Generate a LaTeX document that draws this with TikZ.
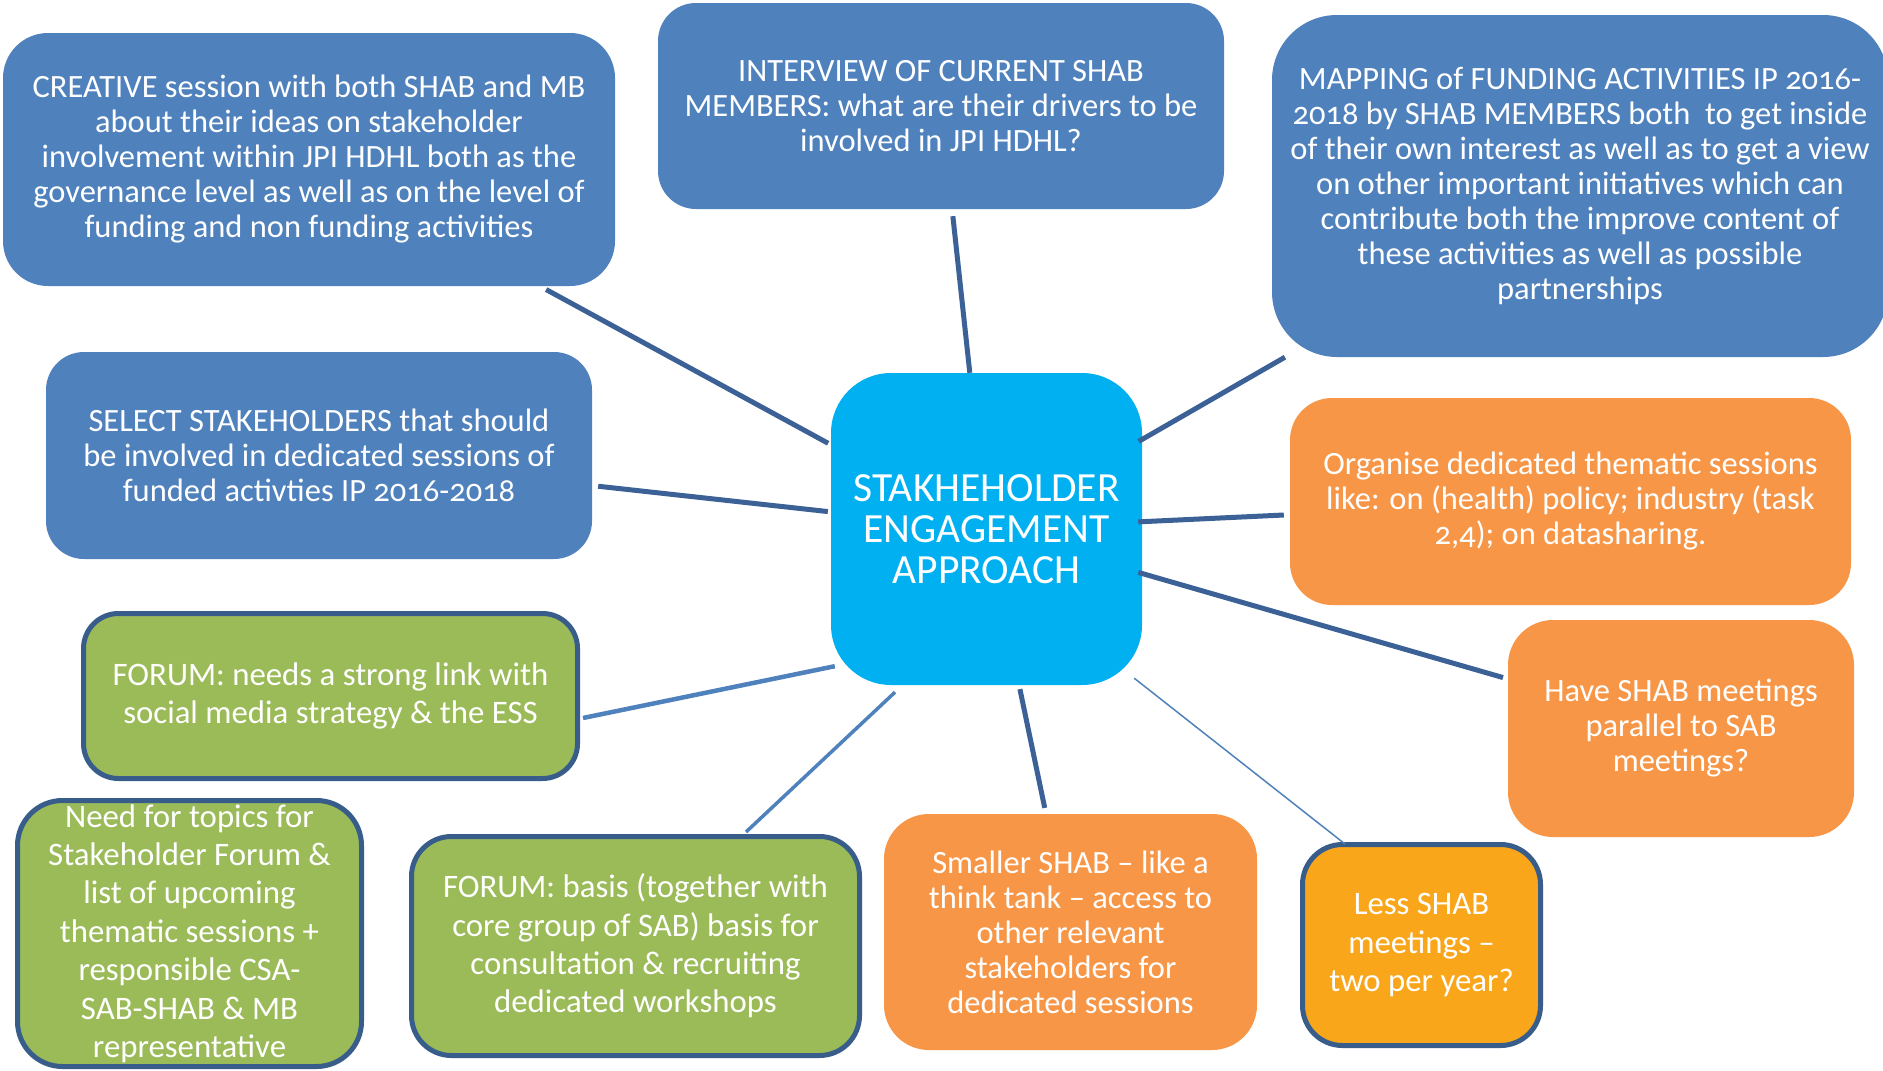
\documentclass[tikz,border=0pt]{standalone}
\usepackage{fontspec}
\setmainfont{Carlito}[Numbers=OldStyle]
\usetikzlibrary{calc}
\definecolor{cBlue}{HTML}{4F81BD}
\definecolor{cCenter}{HTML}{00B0F0}
\definecolor{cOrange}{HTML}{F79646}
\definecolor{cGreen}{HTML}{9BBB59}
\definecolor{cGold}{HTML}{FAA61A}
\definecolor{cBorder}{HTML}{385D8A}
\definecolor{cLine}{HTML}{3B6196}
\definecolor{cLineLight}{HTML}{4F81BD}
\newcommand\fsA{\fontsize{32.5}{35}\selectfont}
\newcommand\fsB{\fontsize{32.8}{38.4}\selectfont}
\newcommand\fsC{\fontsize{41.5}{41}\selectfont}
\tikzset{
  box/.style={inner sep=0pt, align=center, text=white, font=\fsA},
  bluebox/.style={box, fill=cBlue},
  orangebox/.style={box, fill=cOrange},
  greenbox/.style={box, fill=cGreen, draw=cBorder, line width=5pt, font=\fsB},
  goldbox/.style={box, fill=cGold, draw=cBorder, line width=5pt, font=\fsB},
  centerbox/.style={box, fill=cCenter, font=\fsC},
  conn/.style={draw=cLine, line width=5pt},
  connlight/.style={draw=cLineLight, line width=4pt}
}
\begin{document}
\begin{tikzpicture}[x=1pt,y=-1pt]
\useasboundingbox (0,0) rectangle (1883,1071);
\clip (0,0) rectangle (1883,1071);
\fill[white] (0,0) rectangle (1883,1071);

% nodes
\node[bluebox, minimum width=612pt, minimum height=253pt, rounded corners=45pt] (creative) at (309,159.5)
  {CREATIVE session with both SHAB and MB\\about their ideas on stakeholder\\involvement within JPI HDHL both as the\\governance level as well as on the level of\\funding and non funding activities};
\node[bluebox, minimum width=566pt, minimum height=206pt, rounded corners=38pt] (interview) at (941,106)
  {INTERVIEW OF CURRENT SHAB\\MEMBERS: what are their drivers to be\\involved in JPI HDHL?};
\node[bluebox, minimum width=616pt, minimum height=342pt, rounded corners=65pt] (mapping) at (1580,186)
  {MAPPING of FUNDING ACTIVITIES IP 2016-\\2018 by SHAB MEMBERS both\ \ to get inside\\of their own interest as well as to get a view\\on other important initiatives which can\\contribute both the improve content of\\these activities as well as possible\\partnerships};
\node[bluebox, minimum width=546pt, minimum height=207pt, rounded corners=38pt] (select) at (319,455.5)
  {SELECT STAKEHOLDERS that should\\be involved in dedicated sessions of\\funded activties IP 2016-2018};
\node[centerbox, minimum width=311pt, minimum height=312pt, rounded corners=60pt] (center) at (986.5,529)
  {STAKHEHOLDER\\ENGAGEMENT\\APPROACH};
\node[orangebox, minimum width=561pt, minimum height=207pt, rounded corners=42pt] (organise) at (1570.5,501.5)
  {Organise dedicated thematic sessions\\like: on (health) policy; industry (task\\2,4); on datasharing.};
\node[orangebox, minimum width=346pt, minimum height=217pt, rounded corners=45pt] (haveshab) at (1681,728.5)
  {Have SHAB meetings\\parallel to SAB\\meetings?};
\node[greenbox, minimum width=494pt, minimum height=165pt, rounded corners=35pt] (fneeds) at (330.5,696)
  {FORUM: needs a strong link with\\social media strategy \& the ESS};
\node[greenbox, minimum width=344pt, minimum height=266pt, rounded corners=45pt] (topics) at (189.5,933.5)
  {Need for topics for\\Stakeholder Forum \&\\list of upcoming\\thematic sessions +\\responsible CSA-\\SAB-SHAB \& MB\\representative};
\node[greenbox, minimum width=448pt, minimum height=219pt, rounded corners=40pt] (fbasis) at (635.5,946)
  {FORUM: basis (together with\\core group of SAB) basis for\\consultation \& recruiting\\dedicated workshops};
\node[orangebox, minimum width=373pt, minimum height=236pt, rounded corners=45pt] (smaller) at (1070.5,932)
  {Smaller SHAB -- like a\\think tank -- access to\\other relevant\\stakeholders for\\dedicated sessions};
\node[goldbox, minimum width=238pt, minimum height=201pt, rounded corners=40pt] (less) at (1421.5,945)
  {Less SHAB\\meetings --\\two per year?};

% connectors
\draw[conn, shorten <=7pt, shorten >=3pt] (creative) -- (center);
\draw[conn, shorten <=7pt] (interview) -- (center);
\draw[conn, shorten >=-4pt] (mapping) -- (center);
\draw[conn, shorten <=6pt, shorten >=3pt] (select) -- (center);
\draw[conn, shorten <=6pt, shorten >=-4pt] (organise) -- (center);
\draw[conn, shorten <=-4pt, shorten >=5pt] (center) -- (haveshab);
\draw[conn, shorten <=4pt, shorten >=6pt] (center) -- (smaller);
\draw[connlight, line width=4.5pt] ($(fneeds.east)+(3,22)$) -- ($(center.south west)+(4,-19)$);
\draw[connlight, line width=3.5pt] ($(center.south)+(-91.5,7)$) -- ($(fbasis.north)+(110.5,-2)$);
\draw[connlight, line width=1.5pt] ($(center.south east)+(-8,-7)$) -- ($(less.north)+(-76.5,2)$);
\end{tikzpicture}
\end{document}
